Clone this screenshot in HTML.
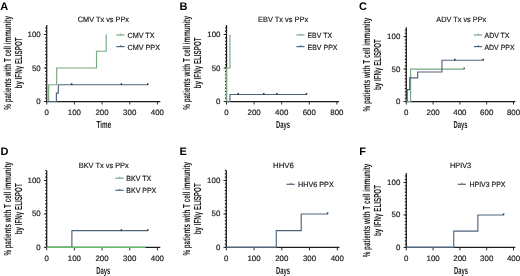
<!DOCTYPE html>
<html><head><meta charset="utf-8"><style>
html,body{margin:0;padding:0;background:#fff;}
body{width:520px;height:276px;overflow:hidden;}
svg{display:block;font-family:"Liberation Sans",sans-serif;will-change:transform;text-rendering:geometricPrecision;}
</style></head><body>
<svg width="520" height="276" viewBox="0 0 520 276">
<rect width="520" height="276" fill="#fff"/>
<text x="0.3" y="9.8" font-size="11" text-anchor="start" font-weight="bold" fill="#000" >A</text>
<text x="77.8" y="22" font-size="7.7" text-anchor="start" font-weight="normal" fill="#1c1c1c" textLength="51.2" lengthAdjust="spacingAndGlyphs"  stroke="#1c1c1c" stroke-width="0.18">CMV Tx vs PPx</text>
<text x="0" y="0" font-size="10.2" text-anchor="middle" font-weight="bold" fill="#1c1c1c" textLength="93.6" lengthAdjust="spacingAndGlyphs" transform="translate(10.7,62.9) rotate(-90)" stroke="#1c1c1c" stroke-width="0.0">% patients with T cell immunity</text>
<text x="0" y="0" font-size="10.2" text-anchor="middle" font-weight="bold" fill="#1c1c1c" textLength="51" lengthAdjust="spacingAndGlyphs" transform="translate(21.5,62.9) rotate(-90)" stroke="#1c1c1c" stroke-width="0.0">by IFN&#947; ELISPOT</text>
<text x="103.9" y="128" font-size="10.2" text-anchor="middle" font-weight="bold" fill="#1c1c1c" textLength="14.6" lengthAdjust="spacingAndGlyphs" stroke="#1c1c1c" stroke-width="0.0">Time</text>
<line x1="45.2" y1="101.5" x2="46.7" y2="101.5" stroke="#1a1a1a" stroke-width="1.1"/>
<line x1="45.2" y1="98.15" x2="46.7" y2="98.15" stroke="#1a1a1a" stroke-width="1.1"/>
<line x1="45.2" y1="94.8" x2="46.7" y2="94.8" stroke="#1a1a1a" stroke-width="1.1"/>
<line x1="45.2" y1="91.45" x2="46.7" y2="91.45" stroke="#1a1a1a" stroke-width="1.1"/>
<line x1="45.2" y1="88.1" x2="46.7" y2="88.1" stroke="#1a1a1a" stroke-width="1.1"/>
<line x1="45.2" y1="84.75" x2="46.7" y2="84.75" stroke="#1a1a1a" stroke-width="1.1"/>
<line x1="45.2" y1="81.4" x2="46.7" y2="81.4" stroke="#1a1a1a" stroke-width="1.1"/>
<line x1="45.2" y1="78.05" x2="46.7" y2="78.05" stroke="#1a1a1a" stroke-width="1.1"/>
<line x1="45.2" y1="74.7" x2="46.7" y2="74.7" stroke="#1a1a1a" stroke-width="1.1"/>
<line x1="45.2" y1="71.35" x2="46.7" y2="71.35" stroke="#1a1a1a" stroke-width="1.1"/>
<line x1="45.2" y1="68" x2="46.7" y2="68" stroke="#1a1a1a" stroke-width="1.1"/>
<line x1="45.2" y1="64.65" x2="46.7" y2="64.65" stroke="#1a1a1a" stroke-width="1.1"/>
<line x1="45.2" y1="61.3" x2="46.7" y2="61.3" stroke="#1a1a1a" stroke-width="1.1"/>
<line x1="45.2" y1="57.95" x2="46.7" y2="57.95" stroke="#1a1a1a" stroke-width="1.1"/>
<line x1="45.2" y1="54.6" x2="46.7" y2="54.6" stroke="#1a1a1a" stroke-width="1.1"/>
<line x1="45.2" y1="51.25" x2="46.7" y2="51.25" stroke="#1a1a1a" stroke-width="1.1"/>
<line x1="45.2" y1="47.9" x2="46.7" y2="47.9" stroke="#1a1a1a" stroke-width="1.1"/>
<line x1="45.2" y1="44.55" x2="46.7" y2="44.55" stroke="#1a1a1a" stroke-width="1.1"/>
<line x1="45.2" y1="41.2" x2="46.7" y2="41.2" stroke="#1a1a1a" stroke-width="1.1"/>
<line x1="45.2" y1="37.85" x2="46.7" y2="37.85" stroke="#1a1a1a" stroke-width="1.1"/>
<line x1="45.2" y1="34.5" x2="46.7" y2="34.5" stroke="#1a1a1a" stroke-width="1.1"/>
<line x1="45.2" y1="31.15" x2="46.7" y2="31.15" stroke="#1a1a1a" stroke-width="1.1"/>
<line x1="45.2" y1="27.8" x2="46.7" y2="27.8" stroke="#1a1a1a" stroke-width="1.1"/>
<line x1="43.9" y1="101.5" x2="46.7" y2="101.5" stroke="#1a1a1a" stroke-width="0.9"/>
<text x="40.7" y="104" font-size="7.8" text-anchor="end" font-weight="normal" fill="#1c1c1c" textLength="4.4" lengthAdjust="spacingAndGlyphs"  stroke="#1c1c1c" stroke-width="0.18">0</text>
<line x1="43.9" y1="68" x2="46.7" y2="68" stroke="#1a1a1a" stroke-width="0.9"/>
<text x="40.7" y="70.5" font-size="7.8" text-anchor="end" font-weight="normal" fill="#1c1c1c" textLength="8.8" lengthAdjust="spacingAndGlyphs"  stroke="#1c1c1c" stroke-width="0.18">50</text>
<line x1="43.9" y1="34.5" x2="46.7" y2="34.5" stroke="#1a1a1a" stroke-width="0.9"/>
<text x="40.7" y="37" font-size="7.8" text-anchor="end" font-weight="normal" fill="#1c1c1c" textLength="13.2" lengthAdjust="spacingAndGlyphs"  stroke="#1c1c1c" stroke-width="0.18">100</text>
<line x1="46.7" y1="101.5" x2="46.7" y2="104.5" stroke="#1a1a1a" stroke-width="0.9"/>
<text x="46.7" y="115" font-size="7.8" text-anchor="middle" font-weight="normal" fill="#1c1c1c" textLength="4.4" lengthAdjust="spacingAndGlyphs"  stroke="#1c1c1c" stroke-width="0.18">0</text>
<line x1="74.38" y1="101.5" x2="74.38" y2="104.5" stroke="#1a1a1a" stroke-width="0.9"/>
<text x="74.38" y="115" font-size="7.8" text-anchor="middle" font-weight="normal" fill="#1c1c1c" textLength="13.2" lengthAdjust="spacingAndGlyphs"  stroke="#1c1c1c" stroke-width="0.18">100</text>
<line x1="102.06" y1="101.5" x2="102.06" y2="104.5" stroke="#1a1a1a" stroke-width="0.9"/>
<text x="102.06" y="115" font-size="7.8" text-anchor="middle" font-weight="normal" fill="#1c1c1c" textLength="13.2" lengthAdjust="spacingAndGlyphs"  stroke="#1c1c1c" stroke-width="0.18">200</text>
<line x1="129.74" y1="101.5" x2="129.74" y2="104.5" stroke="#1a1a1a" stroke-width="0.9"/>
<text x="129.74" y="115" font-size="7.8" text-anchor="middle" font-weight="normal" fill="#1c1c1c" textLength="13.2" lengthAdjust="spacingAndGlyphs"  stroke="#1c1c1c" stroke-width="0.18">300</text>
<line x1="157.42" y1="101.5" x2="157.42" y2="104.5" stroke="#1a1a1a" stroke-width="0.9"/>
<text x="157.42" y="115" font-size="7.8" text-anchor="middle" font-weight="normal" fill="#1c1c1c" textLength="13.2" lengthAdjust="spacingAndGlyphs"  stroke="#1c1c1c" stroke-width="0.18">400</text>
<line x1="46.7" y1="25" x2="46.7" y2="102.1" stroke="#1a1a1a" stroke-width="1.25"/>
<line x1="46.1" y1="101.5" x2="160.3" y2="101.5" stroke="#1a1a1a" stroke-width="1.25"/>
<polyline points="48.64,101.5 48.64,84.75 56.66,84.75 56.66,68 96.52,68 96.52,51.25 106.21,51.25 106.21,34.5" fill="none" stroke="#7aa882" stroke-width="1.15" stroke-linejoin="miter" stroke-linecap="butt"/>
<polyline points="46.7,101.5 56.39,101.5 56.39,93.12 58.33,93.12 58.33,84.75 147.73,84.75" fill="none" stroke="#4d667e" stroke-width="1.15" stroke-linejoin="miter" stroke-linecap="butt"/>
<rect x="70.86" y="83.25" width="1.5" height="1.7" fill="#1f3447"/>
<rect x="120.69" y="83.25" width="1.5" height="1.7" fill="#1f3447"/>
<rect x="146.98" y="83.25" width="1.5" height="1.7" fill="#1f3447"/>
<line x1="116.4" y1="35" x2="124.6" y2="35" stroke="#7aa882" stroke-width="1.2"/>
<line x1="120.8" y1="33.4" x2="120.8" y2="35" stroke="#7aa882" stroke-width="0.9"/>
<text x="127.5" y="38" font-size="7.5" text-anchor="start" font-weight="normal" fill="#1c1c1c" textLength="27" lengthAdjust="spacingAndGlyphs"  stroke="#1c1c1c" stroke-width="0.18">CMV TX</text>
<line x1="116.4" y1="46.6" x2="124.6" y2="46.6" stroke="#4d667e" stroke-width="1.2"/>
<line x1="120.8" y1="45" x2="120.8" y2="46.6" stroke="#4d667e" stroke-width="0.9"/>
<text x="127.5" y="49.6" font-size="7.5" text-anchor="start" font-weight="normal" fill="#1c1c1c" textLength="32.5" lengthAdjust="spacingAndGlyphs"  stroke="#1c1c1c" stroke-width="0.18">CMV PPX</text>
<text x="179.4" y="9.8" font-size="11" text-anchor="start" font-weight="bold" fill="#000" >B</text>
<text x="258" y="22" font-size="7.7" text-anchor="start" font-weight="normal" fill="#1c1c1c" textLength="50.2" lengthAdjust="spacingAndGlyphs"  stroke="#1c1c1c" stroke-width="0.18">EBV Tx vs PPx</text>
<text x="0" y="0" font-size="10.2" text-anchor="middle" font-weight="bold" fill="#1c1c1c" textLength="93.6" lengthAdjust="spacingAndGlyphs" transform="translate(190.0,62.9) rotate(-90)" stroke="#1c1c1c" stroke-width="0.0">% patients with T cell immunity</text>
<text x="0" y="0" font-size="10.2" text-anchor="middle" font-weight="bold" fill="#1c1c1c" textLength="51" lengthAdjust="spacingAndGlyphs" transform="translate(200.8,62.9) rotate(-90)" stroke="#1c1c1c" stroke-width="0.0">by IFN&#947; ELISPOT</text>
<text x="283" y="128" font-size="10.2" text-anchor="middle" font-weight="bold" fill="#1c1c1c" textLength="14" lengthAdjust="spacingAndGlyphs" stroke="#1c1c1c" stroke-width="0.0">Days</text>
<line x1="225" y1="101.5" x2="226.5" y2="101.5" stroke="#1a1a1a" stroke-width="1.1"/>
<line x1="225" y1="98.15" x2="226.5" y2="98.15" stroke="#1a1a1a" stroke-width="1.1"/>
<line x1="225" y1="94.8" x2="226.5" y2="94.8" stroke="#1a1a1a" stroke-width="1.1"/>
<line x1="225" y1="91.45" x2="226.5" y2="91.45" stroke="#1a1a1a" stroke-width="1.1"/>
<line x1="225" y1="88.1" x2="226.5" y2="88.1" stroke="#1a1a1a" stroke-width="1.1"/>
<line x1="225" y1="84.75" x2="226.5" y2="84.75" stroke="#1a1a1a" stroke-width="1.1"/>
<line x1="225" y1="81.4" x2="226.5" y2="81.4" stroke="#1a1a1a" stroke-width="1.1"/>
<line x1="225" y1="78.05" x2="226.5" y2="78.05" stroke="#1a1a1a" stroke-width="1.1"/>
<line x1="225" y1="74.7" x2="226.5" y2="74.7" stroke="#1a1a1a" stroke-width="1.1"/>
<line x1="225" y1="71.35" x2="226.5" y2="71.35" stroke="#1a1a1a" stroke-width="1.1"/>
<line x1="225" y1="68" x2="226.5" y2="68" stroke="#1a1a1a" stroke-width="1.1"/>
<line x1="225" y1="64.65" x2="226.5" y2="64.65" stroke="#1a1a1a" stroke-width="1.1"/>
<line x1="225" y1="61.3" x2="226.5" y2="61.3" stroke="#1a1a1a" stroke-width="1.1"/>
<line x1="225" y1="57.95" x2="226.5" y2="57.95" stroke="#1a1a1a" stroke-width="1.1"/>
<line x1="225" y1="54.6" x2="226.5" y2="54.6" stroke="#1a1a1a" stroke-width="1.1"/>
<line x1="225" y1="51.25" x2="226.5" y2="51.25" stroke="#1a1a1a" stroke-width="1.1"/>
<line x1="225" y1="47.9" x2="226.5" y2="47.9" stroke="#1a1a1a" stroke-width="1.1"/>
<line x1="225" y1="44.55" x2="226.5" y2="44.55" stroke="#1a1a1a" stroke-width="1.1"/>
<line x1="225" y1="41.2" x2="226.5" y2="41.2" stroke="#1a1a1a" stroke-width="1.1"/>
<line x1="225" y1="37.85" x2="226.5" y2="37.85" stroke="#1a1a1a" stroke-width="1.1"/>
<line x1="225" y1="34.5" x2="226.5" y2="34.5" stroke="#1a1a1a" stroke-width="1.1"/>
<line x1="225" y1="31.15" x2="226.5" y2="31.15" stroke="#1a1a1a" stroke-width="1.1"/>
<line x1="225" y1="27.8" x2="226.5" y2="27.8" stroke="#1a1a1a" stroke-width="1.1"/>
<line x1="223.7" y1="101.5" x2="226.5" y2="101.5" stroke="#1a1a1a" stroke-width="0.9"/>
<text x="220.5" y="104" font-size="7.8" text-anchor="end" font-weight="normal" fill="#1c1c1c" textLength="4.4" lengthAdjust="spacingAndGlyphs"  stroke="#1c1c1c" stroke-width="0.18">0</text>
<line x1="223.7" y1="68" x2="226.5" y2="68" stroke="#1a1a1a" stroke-width="0.9"/>
<text x="220.5" y="70.5" font-size="7.8" text-anchor="end" font-weight="normal" fill="#1c1c1c" textLength="8.8" lengthAdjust="spacingAndGlyphs"  stroke="#1c1c1c" stroke-width="0.18">50</text>
<line x1="223.7" y1="34.5" x2="226.5" y2="34.5" stroke="#1a1a1a" stroke-width="0.9"/>
<text x="220.5" y="37" font-size="7.8" text-anchor="end" font-weight="normal" fill="#1c1c1c" textLength="13.2" lengthAdjust="spacingAndGlyphs"  stroke="#1c1c1c" stroke-width="0.18">100</text>
<line x1="226.5" y1="101.5" x2="226.5" y2="104.5" stroke="#1a1a1a" stroke-width="0.9"/>
<text x="226.5" y="115" font-size="7.8" text-anchor="middle" font-weight="normal" fill="#1c1c1c" textLength="4.4" lengthAdjust="spacingAndGlyphs"  stroke="#1c1c1c" stroke-width="0.18">0</text>
<line x1="254.1" y1="101.5" x2="254.1" y2="104.5" stroke="#1a1a1a" stroke-width="0.9"/>
<text x="254.1" y="115" font-size="7.8" text-anchor="middle" font-weight="normal" fill="#1c1c1c" textLength="13.2" lengthAdjust="spacingAndGlyphs"  stroke="#1c1c1c" stroke-width="0.18">200</text>
<line x1="281.7" y1="101.5" x2="281.7" y2="104.5" stroke="#1a1a1a" stroke-width="0.9"/>
<text x="281.7" y="115" font-size="7.8" text-anchor="middle" font-weight="normal" fill="#1c1c1c" textLength="13.2" lengthAdjust="spacingAndGlyphs"  stroke="#1c1c1c" stroke-width="0.18">400</text>
<line x1="309.3" y1="101.5" x2="309.3" y2="104.5" stroke="#1a1a1a" stroke-width="0.9"/>
<text x="309.3" y="115" font-size="7.8" text-anchor="middle" font-weight="normal" fill="#1c1c1c" textLength="13.2" lengthAdjust="spacingAndGlyphs"  stroke="#1c1c1c" stroke-width="0.18">600</text>
<line x1="336.9" y1="101.5" x2="336.9" y2="104.5" stroke="#1a1a1a" stroke-width="0.9"/>
<text x="336.9" y="115" font-size="7.8" text-anchor="middle" font-weight="normal" fill="#1c1c1c" textLength="13.2" lengthAdjust="spacingAndGlyphs"  stroke="#1c1c1c" stroke-width="0.18">800</text>
<line x1="226.5" y1="25" x2="226.5" y2="102.1" stroke="#1a1a1a" stroke-width="1.25"/>
<line x1="225.9" y1="101.5" x2="339" y2="101.5" stroke="#1a1a1a" stroke-width="1.25"/>
<polyline points="226.5,101.5 226.5,68 229.95,68 229.95,34.5" fill="none" stroke="#7aa882" stroke-width="1.15" stroke-linejoin="miter" stroke-linecap="butt"/>
<polyline points="226.5,101.5 229.95,101.5 229.95,94.47 306.54,94.47" fill="none" stroke="#4d667e" stroke-width="1.15" stroke-linejoin="miter" stroke-linecap="butt"/>
<rect x="237.48" y="92.97" width="1.5" height="1.7" fill="#1f3447"/>
<rect x="263.01" y="92.97" width="1.5" height="1.7" fill="#1f3447"/>
<rect x="276.12" y="92.97" width="1.5" height="1.7" fill="#1f3447"/>
<rect x="305.79" y="92.97" width="1.5" height="1.7" fill="#1f3447"/>
<line x1="296.4" y1="35" x2="304.6" y2="35" stroke="#7aa882" stroke-width="1.2"/>
<line x1="300.8" y1="33.4" x2="300.8" y2="35" stroke="#7aa882" stroke-width="0.9"/>
<text x="307.5" y="38" font-size="7.5" text-anchor="start" font-weight="normal" fill="#1c1c1c" textLength="24.5" lengthAdjust="spacingAndGlyphs"  stroke="#1c1c1c" stroke-width="0.18">EBV TX</text>
<line x1="296.4" y1="46.6" x2="304.6" y2="46.6" stroke="#4d667e" stroke-width="1.2"/>
<line x1="300.8" y1="45" x2="300.8" y2="46.6" stroke="#4d667e" stroke-width="0.9"/>
<text x="307.5" y="49.6" font-size="7.5" text-anchor="start" font-weight="normal" fill="#1c1c1c" textLength="30" lengthAdjust="spacingAndGlyphs"  stroke="#1c1c1c" stroke-width="0.18">EBV PPX</text>
<text x="359" y="9.8" font-size="11" text-anchor="start" font-weight="bold" fill="#000" >C</text>
<text x="436.25" y="22" font-size="7.7" text-anchor="start" font-weight="normal" fill="#1c1c1c" textLength="50" lengthAdjust="spacingAndGlyphs"  stroke="#1c1c1c" stroke-width="0.18">ADV Tx vs PPx</text>
<text x="0" y="0" font-size="10.2" text-anchor="middle" font-weight="bold" fill="#1c1c1c" textLength="93.6" lengthAdjust="spacingAndGlyphs" transform="translate(369.8,64.6) rotate(-90)" stroke="#1c1c1c" stroke-width="0.0">% patients with T cell immunity</text>
<text x="0" y="0" font-size="10.2" text-anchor="middle" font-weight="bold" fill="#1c1c1c" textLength="51" lengthAdjust="spacingAndGlyphs" transform="translate(380.6,64.6) rotate(-90)" stroke="#1c1c1c" stroke-width="0.0">by IFN&#947; ELISPOT</text>
<text x="460.6" y="128" font-size="10.2" text-anchor="middle" font-weight="bold" fill="#1c1c1c" textLength="14" lengthAdjust="spacingAndGlyphs" stroke="#1c1c1c" stroke-width="0.0">Days</text>
<line x1="404.8" y1="101.5" x2="406.3" y2="101.5" stroke="#1a1a1a" stroke-width="1.1"/>
<line x1="404.8" y1="98.25" x2="406.3" y2="98.25" stroke="#1a1a1a" stroke-width="1.1"/>
<line x1="404.8" y1="95.01" x2="406.3" y2="95.01" stroke="#1a1a1a" stroke-width="1.1"/>
<line x1="404.8" y1="91.76" x2="406.3" y2="91.76" stroke="#1a1a1a" stroke-width="1.1"/>
<line x1="404.8" y1="88.52" x2="406.3" y2="88.52" stroke="#1a1a1a" stroke-width="1.1"/>
<line x1="404.8" y1="85.27" x2="406.3" y2="85.27" stroke="#1a1a1a" stroke-width="1.1"/>
<line x1="404.8" y1="82.03" x2="406.3" y2="82.03" stroke="#1a1a1a" stroke-width="1.1"/>
<line x1="404.8" y1="78.78" x2="406.3" y2="78.78" stroke="#1a1a1a" stroke-width="1.1"/>
<line x1="404.8" y1="75.54" x2="406.3" y2="75.54" stroke="#1a1a1a" stroke-width="1.1"/>
<line x1="404.8" y1="72.29" x2="406.3" y2="72.29" stroke="#1a1a1a" stroke-width="1.1"/>
<line x1="404.8" y1="69.05" x2="406.3" y2="69.05" stroke="#1a1a1a" stroke-width="1.1"/>
<line x1="404.8" y1="65.8" x2="406.3" y2="65.8" stroke="#1a1a1a" stroke-width="1.1"/>
<line x1="404.8" y1="62.56" x2="406.3" y2="62.56" stroke="#1a1a1a" stroke-width="1.1"/>
<line x1="404.8" y1="59.31" x2="406.3" y2="59.31" stroke="#1a1a1a" stroke-width="1.1"/>
<line x1="404.8" y1="56.07" x2="406.3" y2="56.07" stroke="#1a1a1a" stroke-width="1.1"/>
<line x1="404.8" y1="52.82" x2="406.3" y2="52.82" stroke="#1a1a1a" stroke-width="1.1"/>
<line x1="404.8" y1="49.58" x2="406.3" y2="49.58" stroke="#1a1a1a" stroke-width="1.1"/>
<line x1="404.8" y1="46.33" x2="406.3" y2="46.33" stroke="#1a1a1a" stroke-width="1.1"/>
<line x1="404.8" y1="43.09" x2="406.3" y2="43.09" stroke="#1a1a1a" stroke-width="1.1"/>
<line x1="404.8" y1="39.84" x2="406.3" y2="39.84" stroke="#1a1a1a" stroke-width="1.1"/>
<line x1="404.8" y1="36.6" x2="406.3" y2="36.6" stroke="#1a1a1a" stroke-width="1.1"/>
<line x1="404.8" y1="33.35" x2="406.3" y2="33.35" stroke="#1a1a1a" stroke-width="1.1"/>
<line x1="404.8" y1="30.11" x2="406.3" y2="30.11" stroke="#1a1a1a" stroke-width="1.1"/>
<line x1="403.5" y1="101.5" x2="406.3" y2="101.5" stroke="#1a1a1a" stroke-width="0.9"/>
<text x="400.3" y="104" font-size="7.8" text-anchor="end" font-weight="normal" fill="#1c1c1c" textLength="4.4" lengthAdjust="spacingAndGlyphs"  stroke="#1c1c1c" stroke-width="0.18">0</text>
<line x1="403.5" y1="69.05" x2="406.3" y2="69.05" stroke="#1a1a1a" stroke-width="0.9"/>
<text x="400.3" y="71.55" font-size="7.8" text-anchor="end" font-weight="normal" fill="#1c1c1c" textLength="8.8" lengthAdjust="spacingAndGlyphs"  stroke="#1c1c1c" stroke-width="0.18">50</text>
<line x1="403.5" y1="36.6" x2="406.3" y2="36.6" stroke="#1a1a1a" stroke-width="0.9"/>
<text x="400.3" y="39.1" font-size="7.8" text-anchor="end" font-weight="normal" fill="#1c1c1c" textLength="13.2" lengthAdjust="spacingAndGlyphs"  stroke="#1c1c1c" stroke-width="0.18">100</text>
<line x1="406.3" y1="101.5" x2="406.3" y2="104.5" stroke="#1a1a1a" stroke-width="0.9"/>
<text x="406.3" y="115" font-size="7.8" text-anchor="middle" font-weight="normal" fill="#1c1c1c" textLength="4.4" lengthAdjust="spacingAndGlyphs"  stroke="#1c1c1c" stroke-width="0.18">0</text>
<line x1="433.1" y1="101.5" x2="433.1" y2="104.5" stroke="#1a1a1a" stroke-width="0.9"/>
<text x="433.1" y="115" font-size="7.8" text-anchor="middle" font-weight="normal" fill="#1c1c1c" textLength="13.2" lengthAdjust="spacingAndGlyphs"  stroke="#1c1c1c" stroke-width="0.18">200</text>
<line x1="459.9" y1="101.5" x2="459.9" y2="104.5" stroke="#1a1a1a" stroke-width="0.9"/>
<text x="459.9" y="115" font-size="7.8" text-anchor="middle" font-weight="normal" fill="#1c1c1c" textLength="13.2" lengthAdjust="spacingAndGlyphs"  stroke="#1c1c1c" stroke-width="0.18">400</text>
<line x1="486.7" y1="101.5" x2="486.7" y2="104.5" stroke="#1a1a1a" stroke-width="0.9"/>
<text x="486.7" y="115" font-size="7.8" text-anchor="middle" font-weight="normal" fill="#1c1c1c" textLength="13.2" lengthAdjust="spacingAndGlyphs"  stroke="#1c1c1c" stroke-width="0.18">600</text>
<line x1="513.5" y1="101.5" x2="513.5" y2="104.5" stroke="#1a1a1a" stroke-width="0.9"/>
<text x="513.5" y="115" font-size="7.8" text-anchor="middle" font-weight="normal" fill="#1c1c1c" textLength="13.2" lengthAdjust="spacingAndGlyphs"  stroke="#1c1c1c" stroke-width="0.18">800</text>
<line x1="406.3" y1="27.3" x2="406.3" y2="102.1" stroke="#1a1a1a" stroke-width="1.25"/>
<line x1="405.7" y1="101.5" x2="515.3" y2="101.5" stroke="#1a1a1a" stroke-width="1.25"/>
<polyline points="406.3,101.5 410.59,101.5 410.59,69.05 464.19,69.05" fill="none" stroke="#7aa882" stroke-width="1.15" stroke-linejoin="miter" stroke-linecap="butt"/>
<rect x="463.44" y="67.55" width="1.5" height="1.7" fill="#3d6e45"/>
<polyline points="407.24,101.5 407.24,89.69 409.65,89.69 409.65,77.88 417.69,77.88 417.69,71.97 441.94,71.97 441.94,60.22 483.22,60.22" fill="none" stroke="#4d667e" stroke-width="1.15" stroke-linejoin="miter" stroke-linecap="butt"/>
<rect x="454.06" y="58.72" width="1.5" height="1.7" fill="#1f3447"/>
<rect x="482.47" y="58.72" width="1.5" height="1.7" fill="#1f3447"/>
<line x1="473.9" y1="35" x2="482.1" y2="35" stroke="#7aa882" stroke-width="1.2"/>
<line x1="478.3" y1="33.4" x2="478.3" y2="35" stroke="#7aa882" stroke-width="0.9"/>
<text x="484.5" y="38" font-size="7.5" text-anchor="start" font-weight="normal" fill="#1c1c1c" textLength="25" lengthAdjust="spacingAndGlyphs"  stroke="#1c1c1c" stroke-width="0.18">ADV TX</text>
<line x1="473.9" y1="46.6" x2="482.1" y2="46.6" stroke="#4d667e" stroke-width="1.2"/>
<line x1="478.3" y1="45" x2="478.3" y2="46.6" stroke="#4d667e" stroke-width="0.9"/>
<text x="484.5" y="49.6" font-size="7.5" text-anchor="start" font-weight="normal" fill="#1c1c1c" textLength="30" lengthAdjust="spacingAndGlyphs"  stroke="#1c1c1c" stroke-width="0.18">ADV PPX</text>
<text x="0.4" y="155" font-size="11" text-anchor="start" font-weight="bold" fill="#000" >D</text>
<text x="78.75" y="167.8" font-size="7.7" text-anchor="start" font-weight="normal" fill="#1c1c1c" textLength="50" lengthAdjust="spacingAndGlyphs"  stroke="#1c1c1c" stroke-width="0.18">BKV Tx vs PPx</text>
<text x="0" y="0" font-size="10.2" text-anchor="middle" font-weight="bold" fill="#1c1c1c" textLength="93.6" lengthAdjust="spacingAndGlyphs" transform="translate(10.7,208.8) rotate(-90)" stroke="#1c1c1c" stroke-width="0.0">% patients with T cell immunity</text>
<text x="0" y="0" font-size="10.2" text-anchor="middle" font-weight="bold" fill="#1c1c1c" textLength="51" lengthAdjust="spacingAndGlyphs" transform="translate(21.5,208.8) rotate(-90)" stroke="#1c1c1c" stroke-width="0.0">by IFN&#947; ELISPOT</text>
<text x="103.2" y="273.8" font-size="10.2" text-anchor="middle" font-weight="bold" fill="#1c1c1c" textLength="14" lengthAdjust="spacingAndGlyphs" stroke="#1c1c1c" stroke-width="0.0">Days</text>
<line x1="45.2" y1="247.4" x2="46.7" y2="247.4" stroke="#1a1a1a" stroke-width="1.1"/>
<line x1="45.2" y1="244.06" x2="46.7" y2="244.06" stroke="#1a1a1a" stroke-width="1.1"/>
<line x1="45.2" y1="240.71" x2="46.7" y2="240.71" stroke="#1a1a1a" stroke-width="1.1"/>
<line x1="45.2" y1="237.37" x2="46.7" y2="237.37" stroke="#1a1a1a" stroke-width="1.1"/>
<line x1="45.2" y1="234.02" x2="46.7" y2="234.02" stroke="#1a1a1a" stroke-width="1.1"/>
<line x1="45.2" y1="230.68" x2="46.7" y2="230.68" stroke="#1a1a1a" stroke-width="1.1"/>
<line x1="45.2" y1="227.33" x2="46.7" y2="227.33" stroke="#1a1a1a" stroke-width="1.1"/>
<line x1="45.2" y1="223.99" x2="46.7" y2="223.99" stroke="#1a1a1a" stroke-width="1.1"/>
<line x1="45.2" y1="220.64" x2="46.7" y2="220.64" stroke="#1a1a1a" stroke-width="1.1"/>
<line x1="45.2" y1="217.3" x2="46.7" y2="217.3" stroke="#1a1a1a" stroke-width="1.1"/>
<line x1="45.2" y1="213.95" x2="46.7" y2="213.95" stroke="#1a1a1a" stroke-width="1.1"/>
<line x1="45.2" y1="210.61" x2="46.7" y2="210.61" stroke="#1a1a1a" stroke-width="1.1"/>
<line x1="45.2" y1="207.26" x2="46.7" y2="207.26" stroke="#1a1a1a" stroke-width="1.1"/>
<line x1="45.2" y1="203.92" x2="46.7" y2="203.92" stroke="#1a1a1a" stroke-width="1.1"/>
<line x1="45.2" y1="200.57" x2="46.7" y2="200.57" stroke="#1a1a1a" stroke-width="1.1"/>
<line x1="45.2" y1="197.23" x2="46.7" y2="197.23" stroke="#1a1a1a" stroke-width="1.1"/>
<line x1="45.2" y1="193.88" x2="46.7" y2="193.88" stroke="#1a1a1a" stroke-width="1.1"/>
<line x1="45.2" y1="190.54" x2="46.7" y2="190.54" stroke="#1a1a1a" stroke-width="1.1"/>
<line x1="45.2" y1="187.19" x2="46.7" y2="187.19" stroke="#1a1a1a" stroke-width="1.1"/>
<line x1="45.2" y1="183.85" x2="46.7" y2="183.85" stroke="#1a1a1a" stroke-width="1.1"/>
<line x1="45.2" y1="180.5" x2="46.7" y2="180.5" stroke="#1a1a1a" stroke-width="1.1"/>
<line x1="45.2" y1="177.16" x2="46.7" y2="177.16" stroke="#1a1a1a" stroke-width="1.1"/>
<line x1="45.2" y1="173.81" x2="46.7" y2="173.81" stroke="#1a1a1a" stroke-width="1.1"/>
<line x1="45.2" y1="170.47" x2="46.7" y2="170.47" stroke="#1a1a1a" stroke-width="1.1"/>
<line x1="43.9" y1="247.4" x2="46.7" y2="247.4" stroke="#1a1a1a" stroke-width="0.9"/>
<text x="40.7" y="249.9" font-size="7.8" text-anchor="end" font-weight="normal" fill="#1c1c1c" textLength="4.4" lengthAdjust="spacingAndGlyphs"  stroke="#1c1c1c" stroke-width="0.18">0</text>
<line x1="43.9" y1="213.95" x2="46.7" y2="213.95" stroke="#1a1a1a" stroke-width="0.9"/>
<text x="40.7" y="216.45" font-size="7.8" text-anchor="end" font-weight="normal" fill="#1c1c1c" textLength="8.8" lengthAdjust="spacingAndGlyphs"  stroke="#1c1c1c" stroke-width="0.18">50</text>
<line x1="43.9" y1="180.5" x2="46.7" y2="180.5" stroke="#1a1a1a" stroke-width="0.9"/>
<text x="40.7" y="183" font-size="7.8" text-anchor="end" font-weight="normal" fill="#1c1c1c" textLength="13.2" lengthAdjust="spacingAndGlyphs"  stroke="#1c1c1c" stroke-width="0.18">100</text>
<line x1="46.7" y1="247.4" x2="46.7" y2="250.4" stroke="#1a1a1a" stroke-width="0.9"/>
<text x="46.7" y="260.9" font-size="7.8" text-anchor="middle" font-weight="normal" fill="#1c1c1c" textLength="4.4" lengthAdjust="spacingAndGlyphs"  stroke="#1c1c1c" stroke-width="0.18">0</text>
<line x1="74.38" y1="247.4" x2="74.38" y2="250.4" stroke="#1a1a1a" stroke-width="0.9"/>
<text x="74.38" y="260.9" font-size="7.8" text-anchor="middle" font-weight="normal" fill="#1c1c1c" textLength="13.2" lengthAdjust="spacingAndGlyphs"  stroke="#1c1c1c" stroke-width="0.18">100</text>
<line x1="102.06" y1="247.4" x2="102.06" y2="250.4" stroke="#1a1a1a" stroke-width="0.9"/>
<text x="102.06" y="260.9" font-size="7.8" text-anchor="middle" font-weight="normal" fill="#1c1c1c" textLength="13.2" lengthAdjust="spacingAndGlyphs"  stroke="#1c1c1c" stroke-width="0.18">200</text>
<line x1="129.74" y1="247.4" x2="129.74" y2="250.4" stroke="#1a1a1a" stroke-width="0.9"/>
<text x="129.74" y="260.9" font-size="7.8" text-anchor="middle" font-weight="normal" fill="#1c1c1c" textLength="13.2" lengthAdjust="spacingAndGlyphs"  stroke="#1c1c1c" stroke-width="0.18">300</text>
<line x1="157.42" y1="247.4" x2="157.42" y2="250.4" stroke="#1a1a1a" stroke-width="0.9"/>
<text x="157.42" y="260.9" font-size="7.8" text-anchor="middle" font-weight="normal" fill="#1c1c1c" textLength="13.2" lengthAdjust="spacingAndGlyphs"  stroke="#1c1c1c" stroke-width="0.18">400</text>
<line x1="46.7" y1="170.5" x2="46.7" y2="248" stroke="#1a1a1a" stroke-width="1.25"/>
<line x1="46.1" y1="247.4" x2="160.3" y2="247.4" stroke="#1a1a1a" stroke-width="1.25"/>
<polyline points="46.7,247.4 71.89,247.4 71.89,230.68 147.73,230.68" fill="none" stroke="#4d667e" stroke-width="1.15" stroke-linejoin="miter" stroke-linecap="butt"/>
<rect x="120.69" y="229.18" width="1.5" height="1.7" fill="#1f3447"/>
<rect x="146.98" y="229.18" width="1.5" height="1.7" fill="#1f3447"/>
<polyline points="46.7,247.4 145.52,247.4" fill="none" stroke="#5fc066" stroke-width="1.4" stroke-linejoin="miter" stroke-linecap="butt"/>
<line x1="115.4" y1="178.2" x2="123.6" y2="178.2" stroke="#7aa882" stroke-width="1.2"/>
<line x1="119.8" y1="176.6" x2="119.8" y2="178.2" stroke="#7aa882" stroke-width="0.9"/>
<text x="126.3" y="181.2" font-size="7.5" text-anchor="start" font-weight="normal" fill="#1c1c1c" textLength="25" lengthAdjust="spacingAndGlyphs"  stroke="#1c1c1c" stroke-width="0.18">BKV TX</text>
<line x1="115.4" y1="190.3" x2="123.6" y2="190.3" stroke="#4d667e" stroke-width="1.2"/>
<line x1="119.8" y1="188.7" x2="119.8" y2="190.3" stroke="#4d667e" stroke-width="0.9"/>
<text x="126.3" y="193.3" font-size="7.5" text-anchor="start" font-weight="normal" fill="#1c1c1c" textLength="30" lengthAdjust="spacingAndGlyphs"  stroke="#1c1c1c" stroke-width="0.18">BKV PPX</text>
<text x="179.5" y="155" font-size="11" text-anchor="start" font-weight="bold" fill="#000" >E</text>
<text x="273" y="167.8" font-size="7.7" text-anchor="start" font-weight="normal" fill="#1c1c1c" textLength="20.8" lengthAdjust="spacingAndGlyphs"  stroke="#1c1c1c" stroke-width="0.18">HHV6</text>
<text x="0" y="0" font-size="10.2" text-anchor="middle" font-weight="bold" fill="#1c1c1c" textLength="93.6" lengthAdjust="spacingAndGlyphs" transform="translate(190.0,208.8) rotate(-90)" stroke="#1c1c1c" stroke-width="0.0">% patients with T cell immunity</text>
<text x="0" y="0" font-size="10.2" text-anchor="middle" font-weight="bold" fill="#1c1c1c" textLength="51" lengthAdjust="spacingAndGlyphs" transform="translate(200.8,208.8) rotate(-90)" stroke="#1c1c1c" stroke-width="0.0">by IFN&#947; ELISPOT</text>
<text x="283" y="273.8" font-size="10.2" text-anchor="middle" font-weight="bold" fill="#1c1c1c" textLength="14" lengthAdjust="spacingAndGlyphs" stroke="#1c1c1c" stroke-width="0.0">Days</text>
<line x1="224.8" y1="247.4" x2="226.3" y2="247.4" stroke="#1a1a1a" stroke-width="1.1"/>
<line x1="224.8" y1="244.06" x2="226.3" y2="244.06" stroke="#1a1a1a" stroke-width="1.1"/>
<line x1="224.8" y1="240.71" x2="226.3" y2="240.71" stroke="#1a1a1a" stroke-width="1.1"/>
<line x1="224.8" y1="237.37" x2="226.3" y2="237.37" stroke="#1a1a1a" stroke-width="1.1"/>
<line x1="224.8" y1="234.02" x2="226.3" y2="234.02" stroke="#1a1a1a" stroke-width="1.1"/>
<line x1="224.8" y1="230.68" x2="226.3" y2="230.68" stroke="#1a1a1a" stroke-width="1.1"/>
<line x1="224.8" y1="227.33" x2="226.3" y2="227.33" stroke="#1a1a1a" stroke-width="1.1"/>
<line x1="224.8" y1="223.99" x2="226.3" y2="223.99" stroke="#1a1a1a" stroke-width="1.1"/>
<line x1="224.8" y1="220.64" x2="226.3" y2="220.64" stroke="#1a1a1a" stroke-width="1.1"/>
<line x1="224.8" y1="217.3" x2="226.3" y2="217.3" stroke="#1a1a1a" stroke-width="1.1"/>
<line x1="224.8" y1="213.95" x2="226.3" y2="213.95" stroke="#1a1a1a" stroke-width="1.1"/>
<line x1="224.8" y1="210.61" x2="226.3" y2="210.61" stroke="#1a1a1a" stroke-width="1.1"/>
<line x1="224.8" y1="207.26" x2="226.3" y2="207.26" stroke="#1a1a1a" stroke-width="1.1"/>
<line x1="224.8" y1="203.92" x2="226.3" y2="203.92" stroke="#1a1a1a" stroke-width="1.1"/>
<line x1="224.8" y1="200.57" x2="226.3" y2="200.57" stroke="#1a1a1a" stroke-width="1.1"/>
<line x1="224.8" y1="197.23" x2="226.3" y2="197.23" stroke="#1a1a1a" stroke-width="1.1"/>
<line x1="224.8" y1="193.88" x2="226.3" y2="193.88" stroke="#1a1a1a" stroke-width="1.1"/>
<line x1="224.8" y1="190.54" x2="226.3" y2="190.54" stroke="#1a1a1a" stroke-width="1.1"/>
<line x1="224.8" y1="187.19" x2="226.3" y2="187.19" stroke="#1a1a1a" stroke-width="1.1"/>
<line x1="224.8" y1="183.85" x2="226.3" y2="183.85" stroke="#1a1a1a" stroke-width="1.1"/>
<line x1="224.8" y1="180.5" x2="226.3" y2="180.5" stroke="#1a1a1a" stroke-width="1.1"/>
<line x1="224.8" y1="177.16" x2="226.3" y2="177.16" stroke="#1a1a1a" stroke-width="1.1"/>
<line x1="224.8" y1="173.81" x2="226.3" y2="173.81" stroke="#1a1a1a" stroke-width="1.1"/>
<line x1="224.8" y1="170.47" x2="226.3" y2="170.47" stroke="#1a1a1a" stroke-width="1.1"/>
<line x1="223.5" y1="247.4" x2="226.3" y2="247.4" stroke="#1a1a1a" stroke-width="0.9"/>
<text x="220.3" y="249.9" font-size="7.8" text-anchor="end" font-weight="normal" fill="#1c1c1c" textLength="4.4" lengthAdjust="spacingAndGlyphs"  stroke="#1c1c1c" stroke-width="0.18">0</text>
<line x1="223.5" y1="213.95" x2="226.3" y2="213.95" stroke="#1a1a1a" stroke-width="0.9"/>
<text x="220.3" y="216.45" font-size="7.8" text-anchor="end" font-weight="normal" fill="#1c1c1c" textLength="8.8" lengthAdjust="spacingAndGlyphs"  stroke="#1c1c1c" stroke-width="0.18">50</text>
<line x1="223.5" y1="180.5" x2="226.3" y2="180.5" stroke="#1a1a1a" stroke-width="0.9"/>
<text x="220.3" y="183" font-size="7.8" text-anchor="end" font-weight="normal" fill="#1c1c1c" textLength="13.2" lengthAdjust="spacingAndGlyphs"  stroke="#1c1c1c" stroke-width="0.18">100</text>
<line x1="226.3" y1="247.4" x2="226.3" y2="250.4" stroke="#1a1a1a" stroke-width="0.9"/>
<text x="226.3" y="260.9" font-size="7.8" text-anchor="middle" font-weight="normal" fill="#1c1c1c" textLength="4.4" lengthAdjust="spacingAndGlyphs"  stroke="#1c1c1c" stroke-width="0.18">0</text>
<line x1="254.05" y1="247.4" x2="254.05" y2="250.4" stroke="#1a1a1a" stroke-width="0.9"/>
<text x="254.05" y="260.9" font-size="7.8" text-anchor="middle" font-weight="normal" fill="#1c1c1c" textLength="13.2" lengthAdjust="spacingAndGlyphs"  stroke="#1c1c1c" stroke-width="0.18">100</text>
<line x1="281.8" y1="247.4" x2="281.8" y2="250.4" stroke="#1a1a1a" stroke-width="0.9"/>
<text x="281.8" y="260.9" font-size="7.8" text-anchor="middle" font-weight="normal" fill="#1c1c1c" textLength="13.2" lengthAdjust="spacingAndGlyphs"  stroke="#1c1c1c" stroke-width="0.18">200</text>
<line x1="309.55" y1="247.4" x2="309.55" y2="250.4" stroke="#1a1a1a" stroke-width="0.9"/>
<text x="309.55" y="260.9" font-size="7.8" text-anchor="middle" font-weight="normal" fill="#1c1c1c" textLength="13.2" lengthAdjust="spacingAndGlyphs"  stroke="#1c1c1c" stroke-width="0.18">300</text>
<line x1="337.3" y1="247.4" x2="337.3" y2="250.4" stroke="#1a1a1a" stroke-width="0.9"/>
<text x="337.3" y="260.9" font-size="7.8" text-anchor="middle" font-weight="normal" fill="#1c1c1c" textLength="13.2" lengthAdjust="spacingAndGlyphs"  stroke="#1c1c1c" stroke-width="0.18">400</text>
<line x1="226.3" y1="170.5" x2="226.3" y2="248" stroke="#1a1a1a" stroke-width="1.25"/>
<line x1="225.7" y1="247.4" x2="339.4" y2="247.4" stroke="#1a1a1a" stroke-width="1.25"/>
<polyline points="226.3,247.4 276.25,247.4 276.25,230.68 301.23,230.68 301.23,213.95 327.59,213.95" fill="none" stroke="#4d667e" stroke-width="1.15" stroke-linejoin="miter" stroke-linecap="butt"/>
<rect x="326.84" y="212.45" width="1.5" height="1.7" fill="#1f3447"/>
<line x1="286.5" y1="184.3" x2="294.7" y2="184.3" stroke="#4d667e" stroke-width="1.2"/>
<line x1="290.9" y1="182.7" x2="290.9" y2="184.3" stroke="#4d667e" stroke-width="0.9"/>
<text x="298" y="187.3" font-size="7.5" text-anchor="start" font-weight="normal" fill="#1c1c1c" textLength="35.7" lengthAdjust="spacingAndGlyphs"  stroke="#1c1c1c" stroke-width="0.18">HHV6 PPX</text>
<text x="359.3" y="155" font-size="11" text-anchor="start" font-weight="bold" fill="#000" >F</text>
<text x="450" y="167.8" font-size="7.7" text-anchor="start" font-weight="normal" fill="#1c1c1c" textLength="21.2" lengthAdjust="spacingAndGlyphs"  stroke="#1c1c1c" stroke-width="0.18">HPIV3</text>
<text x="0" y="0" font-size="10.2" text-anchor="middle" font-weight="bold" fill="#1c1c1c" textLength="93.6" lengthAdjust="spacingAndGlyphs" transform="translate(369.8,210.5) rotate(-90)" stroke="#1c1c1c" stroke-width="0.0">% patients with T cell immunity</text>
<text x="0" y="0" font-size="10.2" text-anchor="middle" font-weight="bold" fill="#1c1c1c" textLength="51" lengthAdjust="spacingAndGlyphs" transform="translate(380.6,210.5) rotate(-90)" stroke="#1c1c1c" stroke-width="0.0">by IFN&#947; ELISPOT</text>
<text x="461" y="273.8" font-size="10.2" text-anchor="middle" font-weight="bold" fill="#1c1c1c" textLength="14" lengthAdjust="spacingAndGlyphs" stroke="#1c1c1c" stroke-width="0.0">Days</text>
<line x1="404.8" y1="247.4" x2="406.3" y2="247.4" stroke="#1a1a1a" stroke-width="1.1"/>
<line x1="404.8" y1="244.16" x2="406.3" y2="244.16" stroke="#1a1a1a" stroke-width="1.1"/>
<line x1="404.8" y1="240.91" x2="406.3" y2="240.91" stroke="#1a1a1a" stroke-width="1.1"/>
<line x1="404.8" y1="237.66" x2="406.3" y2="237.66" stroke="#1a1a1a" stroke-width="1.1"/>
<line x1="404.8" y1="234.42" x2="406.3" y2="234.42" stroke="#1a1a1a" stroke-width="1.1"/>
<line x1="404.8" y1="231.17" x2="406.3" y2="231.17" stroke="#1a1a1a" stroke-width="1.1"/>
<line x1="404.8" y1="227.93" x2="406.3" y2="227.93" stroke="#1a1a1a" stroke-width="1.1"/>
<line x1="404.8" y1="224.68" x2="406.3" y2="224.68" stroke="#1a1a1a" stroke-width="1.1"/>
<line x1="404.8" y1="221.44" x2="406.3" y2="221.44" stroke="#1a1a1a" stroke-width="1.1"/>
<line x1="404.8" y1="218.19" x2="406.3" y2="218.19" stroke="#1a1a1a" stroke-width="1.1"/>
<line x1="404.8" y1="214.95" x2="406.3" y2="214.95" stroke="#1a1a1a" stroke-width="1.1"/>
<line x1="404.8" y1="211.7" x2="406.3" y2="211.7" stroke="#1a1a1a" stroke-width="1.1"/>
<line x1="404.8" y1="208.46" x2="406.3" y2="208.46" stroke="#1a1a1a" stroke-width="1.1"/>
<line x1="404.8" y1="205.21" x2="406.3" y2="205.21" stroke="#1a1a1a" stroke-width="1.1"/>
<line x1="404.8" y1="201.97" x2="406.3" y2="201.97" stroke="#1a1a1a" stroke-width="1.1"/>
<line x1="404.8" y1="198.72" x2="406.3" y2="198.72" stroke="#1a1a1a" stroke-width="1.1"/>
<line x1="404.8" y1="195.48" x2="406.3" y2="195.48" stroke="#1a1a1a" stroke-width="1.1"/>
<line x1="404.8" y1="192.23" x2="406.3" y2="192.23" stroke="#1a1a1a" stroke-width="1.1"/>
<line x1="404.8" y1="188.99" x2="406.3" y2="188.99" stroke="#1a1a1a" stroke-width="1.1"/>
<line x1="404.8" y1="185.74" x2="406.3" y2="185.74" stroke="#1a1a1a" stroke-width="1.1"/>
<line x1="404.8" y1="182.5" x2="406.3" y2="182.5" stroke="#1a1a1a" stroke-width="1.1"/>
<line x1="404.8" y1="179.25" x2="406.3" y2="179.25" stroke="#1a1a1a" stroke-width="1.1"/>
<line x1="404.8" y1="176.01" x2="406.3" y2="176.01" stroke="#1a1a1a" stroke-width="1.1"/>
<line x1="403.5" y1="247.4" x2="406.3" y2="247.4" stroke="#1a1a1a" stroke-width="0.9"/>
<text x="400.3" y="249.9" font-size="7.8" text-anchor="end" font-weight="normal" fill="#1c1c1c" textLength="4.4" lengthAdjust="spacingAndGlyphs"  stroke="#1c1c1c" stroke-width="0.18">0</text>
<line x1="403.5" y1="214.95" x2="406.3" y2="214.95" stroke="#1a1a1a" stroke-width="0.9"/>
<text x="400.3" y="217.45" font-size="7.8" text-anchor="end" font-weight="normal" fill="#1c1c1c" textLength="8.8" lengthAdjust="spacingAndGlyphs"  stroke="#1c1c1c" stroke-width="0.18">50</text>
<line x1="403.5" y1="182.5" x2="406.3" y2="182.5" stroke="#1a1a1a" stroke-width="0.9"/>
<text x="400.3" y="185" font-size="7.8" text-anchor="end" font-weight="normal" fill="#1c1c1c" textLength="13.2" lengthAdjust="spacingAndGlyphs"  stroke="#1c1c1c" stroke-width="0.18">100</text>
<line x1="406.3" y1="247.4" x2="406.3" y2="250.4" stroke="#1a1a1a" stroke-width="0.9"/>
<text x="406.3" y="260.9" font-size="7.8" text-anchor="middle" font-weight="normal" fill="#1c1c1c" textLength="4.4" lengthAdjust="spacingAndGlyphs"  stroke="#1c1c1c" stroke-width="0.18">0</text>
<line x1="433.1" y1="247.4" x2="433.1" y2="250.4" stroke="#1a1a1a" stroke-width="0.9"/>
<text x="433.1" y="260.9" font-size="7.8" text-anchor="middle" font-weight="normal" fill="#1c1c1c" textLength="13.2" lengthAdjust="spacingAndGlyphs"  stroke="#1c1c1c" stroke-width="0.18">100</text>
<line x1="459.9" y1="247.4" x2="459.9" y2="250.4" stroke="#1a1a1a" stroke-width="0.9"/>
<text x="459.9" y="260.9" font-size="7.8" text-anchor="middle" font-weight="normal" fill="#1c1c1c" textLength="13.2" lengthAdjust="spacingAndGlyphs"  stroke="#1c1c1c" stroke-width="0.18">200</text>
<line x1="486.7" y1="247.4" x2="486.7" y2="250.4" stroke="#1a1a1a" stroke-width="0.9"/>
<text x="486.7" y="260.9" font-size="7.8" text-anchor="middle" font-weight="normal" fill="#1c1c1c" textLength="13.2" lengthAdjust="spacingAndGlyphs"  stroke="#1c1c1c" stroke-width="0.18">300</text>
<line x1="513.5" y1="247.4" x2="513.5" y2="250.4" stroke="#1a1a1a" stroke-width="0.9"/>
<text x="513.5" y="260.9" font-size="7.8" text-anchor="middle" font-weight="normal" fill="#1c1c1c" textLength="13.2" lengthAdjust="spacingAndGlyphs"  stroke="#1c1c1c" stroke-width="0.18">400</text>
<line x1="406.3" y1="173" x2="406.3" y2="248" stroke="#1a1a1a" stroke-width="1.25"/>
<line x1="405.7" y1="247.4" x2="515.3" y2="247.4" stroke="#1a1a1a" stroke-width="1.25"/>
<polyline points="406.3,247.4 453.74,247.4 453.74,231.18 477.86,231.18 477.86,214.95 503.58,214.95" fill="none" stroke="#4d667e" stroke-width="1.15" stroke-linejoin="miter" stroke-linecap="butt"/>
<rect x="502.83" y="213.45" width="1.5" height="1.7" fill="#1f3447"/>
<line x1="457.7" y1="184.3" x2="465.9" y2="184.3" stroke="#4d667e" stroke-width="1.2"/>
<line x1="462.1" y1="182.7" x2="462.1" y2="184.3" stroke="#4d667e" stroke-width="0.9"/>
<text x="469.5" y="187.3" font-size="7.5" text-anchor="start" font-weight="normal" fill="#1c1c1c" textLength="36" lengthAdjust="spacingAndGlyphs"  stroke="#1c1c1c" stroke-width="0.18">HPIV3 PPX</text>
</svg>
</body></html>
